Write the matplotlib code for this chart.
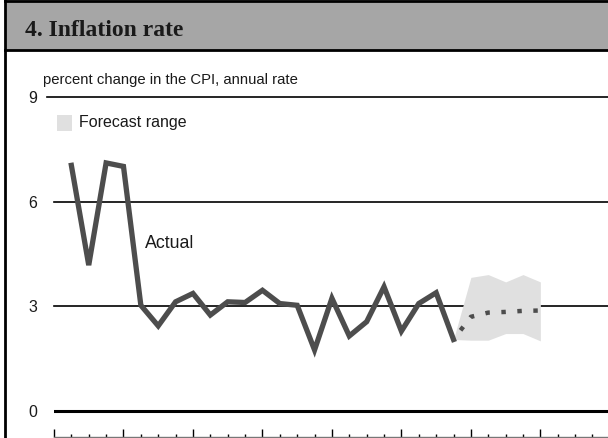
import numpy as np
import matplotlib
matplotlib.use("Agg")
import matplotlib.pyplot as plt
from matplotlib.patches import Rectangle
from matplotlib.lines import Line2D

# quarterly CPI inflation, annual rate
actual_q = list(range(1, 24))
actual = [7.04, 4.18, 7.11, 7.01, 3.03, 2.44, 3.13, 3.37, 2.75, 3.13, 3.11, 3.46,
          3.08, 3.03, 1.75, 3.23, 2.15, 2.56, 3.56, 2.29, 3.08, 3.39, 2.05]
fcst_q = [23, 24, 25, 26, 27, 28]
fcst = [2.05, 2.70, 2.82, 2.84, 2.87, 2.88]
band_hi = [2.05, 3.83, 3.91, 3.70, 3.91, 3.70]
band_lo = [2.05, 2.03, 2.03, 2.22, 2.22, 2.01]
yticks = [0, 3, 6, 9]

W, H = 608, 438
fig = plt.figure(figsize=(W / 100, H / 100), dpi=100)
fig.patch.set_facecolor("white")

def fx(px):
    return px / W

def fy(py):
    return 1 - py / H

# header band and frame
fig.patches.append(Rectangle((fx(5), fy(50)), 1, 50 / H, transform=fig.transFigure,
                             facecolor="#a6a6a6", edgecolor="none", zorder=0))
fig.add_artist(Line2D([fx(5), fx(5)], [0, 1], color="black", lw=2))
fig.add_artist(Line2D([fx(5), 1], [fy(1), fy(1)], color="black", lw=2))
fig.add_artist(Line2D([fx(5), 1], [fy(50), fy(50)], color="black", lw=2))
fig.text(fx(25), fy(31), "4. Inflation rate", family="Liberation Serif", weight="bold",
         fontsize=17, va="center", ha="left", color="#1a1a1a")

ax = fig.add_axes([fx(54), fy(437), 1 - fx(54), (437 - 60) / H])
ax.set_facecolor("none")
ax.set_xlim(0, 554 / 17.37)
ax.set_ylim(-26 / 34.93, 9 + 37 / 34.93)

for s in ["top", "right", "left"]:
    ax.spines[s].set_visible(False)
ax.spines["bottom"].set_color("#777777")
ax.spines["bottom"].set_linewidth(1)

ax.set_xticks(np.arange(0, 29, 4))
ax.set_xticks(np.arange(0, 32, 1), minor=True)
ax.tick_params(axis="x", which="major", direction="in", length=5.8, width=1,
               labelbottom=False, color="black")
ax.tick_params(axis="x", which="minor", direction="in", length=2.5, width=1, color="black")

ax.set_yticks(yticks)
ax.set_yticklabels([str(v) for v in yticks], family="Liberation Sans", fontsize=11.5)
ax.tick_params(axis="y", length=0, pad=12, labelcolor="#1a1a1a")

for v in yticks[1:]:
    ax.axhline(v, color="black", lw=1.2, zorder=1, clip_on=False,
               xmin=-0.013 if v == 9 else 0)
ax.axhline(0, color="black", lw=2.2, zorder=1)

ax.fill_between(fcst_q, band_lo, band_hi, color="#e0e0e0", lw=0, zorder=2)
ax.plot(actual_q, actual, color="#4d4d4d", lw=3.8, solid_joinstyle="miter", zorder=3)
ax.plot(fcst_q, fcst, color="#4d4d4d", lw=3.2, linestyle=(1, (1, 2.6)),
        dash_capstyle="butt", zorder=3)

ax.text((145 - 54) / 17.37, (411 - 243) / 34.93, "Actual", family="Liberation Sans",
        fontsize=12.8, va="center", ha="left", color="#1a1a1a")

fig.text(fx(43), fy(80), "percent change in the CPI, annual rate", family="Liberation Sans",
         fontsize=10.7, va="center", ha="left", color="#1a1a1a")
fig.patches.append(Rectangle((fx(57), fy(131)), 15 / W, 16 / H, transform=fig.transFigure,
                             facecolor="#e0e0e0", edgecolor="none"))
fig.text(fx(79), fy(123), "Forecast range", family="Liberation Sans",
         fontsize=11.5, va="center", ha="left", color="#1a1a1a")

fig.savefig("out.png", dpi=100)
